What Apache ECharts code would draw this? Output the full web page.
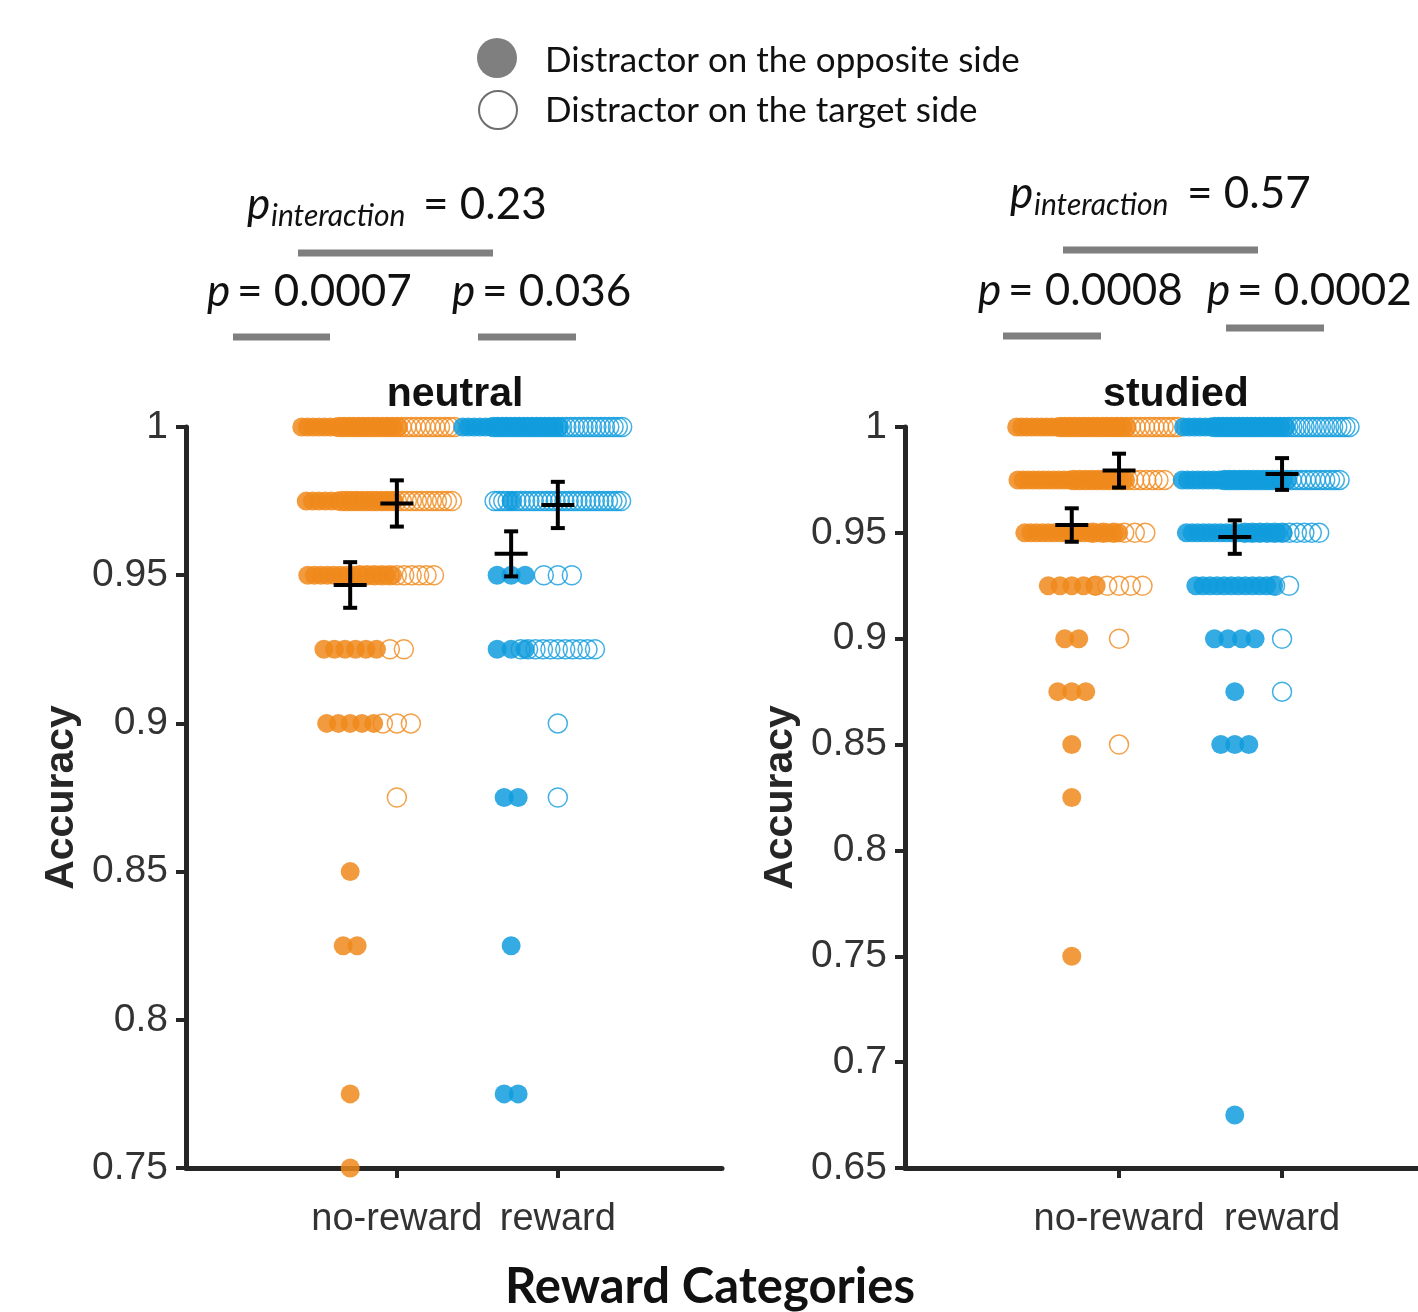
<!DOCTYPE html>
<html>
<head>
<meta charset="utf-8">
<script src="https://cdn.jsdelivr.net/npm/echarts@6/dist/echarts.min.js"></script>
<style>
  html, body { margin: 0; padding: 0; background: #fff; }
  #chart { width: 1418px; height: 1312px; }
</style>
</head>
<body>
<div id="chart"></div>
<script>
// reward categories on the x axis
const rewardCats = ["no-reward", "reward"];

// accuracy levels and number of participants at each level
// neutral panel
const neuNoRewOppAcc = [1, 0.975, 0.95, 0.925, 0.9, 0.85, 0.825, 0.775, 0.75];
const neuNoRewOppN   = [18, 15, 14, 6, 5, 1, 2, 1, 1];
const neuNoRewTgtAcc = [1, 0.975, 0.95, 0.925, 0.9, 0.875];
const neuNoRewTgtN   = [25, 23, 11, 2, 3, 1];
const neuRewOppAcc   = [1, 0.975, 0.95, 0.925, 0.875, 0.825, 0.775];
const neuRewOppN     = [18, 1, 3, 3, 2, 1, 2];
const neuRewTgtAcc   = [1, 0.975, 0.95, 0.925, 0.9, 0.875];
const neuRewTgtN     = [31, 30, 3, 11, 1, 1];
// studied panel
const stuNoRewOppAcc = [1, 0.975, 0.95, 0.925, 0.9, 0.875, 0.85, 0.825, 0.75];
const stuNoRewOppN   = [23, 22, 17, 5, 2, 3, 1, 1, 1];
const stuNoRewTgtAcc = [1, 0.975, 0.95, 0.925, 0.9, 0.85];
const stuNoRewTgtN   = [26, 16, 6, 5, 1, 1];
const stuRewOppAcc   = [1, 0.975, 0.95, 0.925, 0.9, 0.875, 0.85, 0.675];
const stuRewOppN     = [20, 21, 18, 12, 4, 1, 3, 1];
const stuRewTgtAcc   = [1, 0.975, 0.95, 0.925, 0.9, 0.875];
const stuRewTgtN     = [34, 25, 11, 2, 1, 1];

// mean +- sem: [no-reward opposite, no-reward target, reward opposite, reward target]
const neuMean = [0.9467, 0.9742, 0.9572, 0.9737];
const neuSem  = [0.0077, 0.0078, 0.0076, 0.0078];
const stuMean = [0.9537, 0.9794, 0.9480, 0.9778];
const stuSem  = [0.0079, 0.0080, 0.0079, 0.0075];

const ORANGE = "#F08A1C";
const BLUE = "#109CDD";
const AXIS = "#262626";
const OPP_SHIFT = -0.29;   // filled dots sit left of the tick

// axis ranges (x in category units)
const xRange = [[-0.31, 3.02], [-0.313, 2.834]];
const gridW = [536, 513];

// spread dots of one level sideways (beeswarm-like)
function swarm(accs, counts, xc, panel) {
    const pxPerUnit = gridW[panel] / (xRange[panel][1] - xRange[panel][0]);
    const out = [];
    accs.forEach((a, k) => {
        const n = counts[k];
        const span = n > 1 ? Math.min(14 * (n - 1), 23.5 * Math.sqrt(n - 1)) : 0;
        for (let i = 0; i < n; i++) {
            const off = n > 1 ? -span / 2 + i * span / (n - 1) : 0;
            out.push([xc + off / pxPerUnit, a]);
        }
    });
    return out;
}

function dots(name, data, panel, color, filled) {
    return {
        name: name,
        type: "scatter",
        xAxisIndex: panel,
        yAxisIndex: panel,
        symbol: "circle",
        symbolSize: 19,
        silent: true,
        data: data,
        itemStyle: filled
            ? {color: color, opacity: 0.85}
            : {color: "rgba(255,255,255,0)", borderColor: color, borderWidth: 1.5, opacity: 0.8}
    };
}

function errBars(means, sems, panel) {
    const xs = [1 + OPP_SHIFT, 1, 2 + OPP_SHIFT, 2];
    return {
        type: "custom",
        xAxisIndex: panel,
        yAxisIndex: panel,
        silent: true,
        z: 10,
        encode: {x: 0, y: 1},
        data: xs.map((x, i) => [x, means[i], sems[i]]),
        renderItem: function (params, api) {
            const x = api.value(0), m = api.value(1), s = api.value(2);
            const c = api.coord([x, m]);
            const t = api.coord([x, m + s]);
            const b = api.coord([x, m - s]);
            const st = {stroke: "#000", lineWidth: 4};
            return {
                type: "group",
                children: [
                    {type: "line", shape: {x1: c[0], y1: t[1], x2: c[0], y2: b[1]}, style: st},
                    {type: "line", shape: {x1: c[0] - 7, y1: t[1], x2: c[0] + 7, y2: t[1]}, style: st},
                    {type: "line", shape: {x1: c[0] - 7, y1: b[1], x2: c[0] + 7, y2: b[1]}, style: st},
                    {type: "line", shape: {x1: c[0] - 16.5, y1: c[1], x2: c[0] + 16.5, y2: c[1]}, style: st}
                ]
            };
        }
    };
}

function xAx(panel) {
    return {
        gridIndex: panel,
        type: "value",
        min: xRange[panel][0],
        max: xRange[panel][1],
        axisLine: {show: true, onZero: false, lineStyle: {color: AXIS, width: 5}},
        axisTick: {show: true, customValues: [1, 2], length: 10, lineStyle: {color: AXIS, width: 4}},
        axisLabel: {
            customValues: [1, 2],
            formatter: v => rewardCats[Math.round(v) - 1],
            margin: 33, fontSize: 38, color: "#333", fontFamily: "Liberation Sans"
        },
        splitLine: {show: false}
    };
}

function yAx(panel, min) {
    return {
        gridIndex: panel,
        type: "value",
        min: min,
        max: 1,
        interval: 0.05,
        axisLine: {show: true, onZero: false, lineStyle: {color: AXIS, width: 5}},
        axisTick: {show: true, length: 10, lineStyle: {color: AXIS, width: 4}},
        axisLabel: {
            formatter: v => String(parseFloat(v.toFixed(2))),
            margin: 18, fontSize: 39, color: "#333", fontFamily: "Liberation Sans",
            padding: [6, 0, 0, 0]
        },
        splitLine: {show: false},
        name: "Accuracy",
        nameLocation: "middle",
        nameGap: 104,
        nameTextStyle: {fontWeight: "bold", fontSize: 41, color: AXIS, fontFamily: "Liberation Sans"}
    };
}

const CAL = "Lato";
function txt(x, y, text, font, align) {
    return {
        type: "text", x: x, y: y, silent: true,
        style: {text: text, font: font, fill: "#111", align: align || "left", textAlign: align || "left",
                verticalAlign: "middle", textVerticalAlign: "middle"}
    };
}
function bar(x1, x2, y) {
    return {type: "line", silent: true, shape: {x1: x1, y1: y, x2: x2, y2: y}, style: {stroke: "#7f7f7f", lineWidth: 7}};
}

const chart = echarts.init(document.getElementById("chart"));
chart.setOption({
    animation: false,
    grid: [
        {left: 186, top: 427, width: gridW[0], height: 741},
        {left: 905, top: 427, width: gridW[1], height: 741}
    ],
    xAxis: [xAx(0), xAx(1)],
    yAxis: [yAx(0, 0.75), yAx(1, 0.65)],
    series: [
        dots("neutral no-reward target", swarm(neuNoRewTgtAcc, neuNoRewTgtN, 1, 0), 0, ORANGE, false),
        dots("neutral no-reward opposite", swarm(neuNoRewOppAcc, neuNoRewOppN, 1 + OPP_SHIFT, 0), 0, ORANGE, true),
        dots("neutral reward target", swarm(neuRewTgtAcc, neuRewTgtN, 2, 0), 0, BLUE, false),
        dots("neutral reward opposite", swarm(neuRewOppAcc, neuRewOppN, 2 + OPP_SHIFT, 0), 0, BLUE, true),
        errBars(neuMean, neuSem, 0),
        dots("studied no-reward target", swarm(stuNoRewTgtAcc, stuNoRewTgtN, 1, 1), 1, ORANGE, false),
        dots("studied no-reward opposite", swarm(stuNoRewOppAcc, stuNoRewOppN, 1 + OPP_SHIFT, 1), 1, ORANGE, true),
        dots("studied reward target", swarm(stuRewTgtAcc, stuRewTgtN, 2, 1), 1, BLUE, false),
        dots("studied reward opposite", swarm(stuRewOppAcc, stuRewOppN, 2 + OPP_SHIFT, 1), 1, BLUE, true),
        errBars(stuMean, stuSem, 1)
    ],
    graphic: [
        // legend
        {type: "circle", silent: true, shape: {cx: 497, cy: 58, r: 20}, style: {fill: "#7f7f7f"}},
        {type: "circle", silent: true, shape: {cx: 498, cy: 110, r: 19}, style: {fill: "#fff", stroke: "#6e6e6e", lineWidth: 2}},
        txt(545, 61, "Distractor on the opposite side", "35px " + CAL),
        txt(545, 111, "Distractor on the target side", "35px " + CAL),
        // panel titles
        txt(455, 395, "neutral", "bold 41px Liberation Sans", "center"),
        txt(1176, 395, "studied", "bold 41px Liberation Sans", "center"),
        // neutral stats
        txt(247, 205, "p", "italic 44px " + CAL),
        txt(271, 216, "interaction", "italic 30px " + CAL),
        txt(423, 205, "= 0.23", "44px " + CAL),
        bar(298, 493, 253),
        txt(207, 292, "p", "italic 44px " + CAL),
        txt(237, 292, "= 0.0007", "44px " + CAL),
        bar(233, 330, 337),
        txt(452, 292, "p", "italic 44px " + CAL),
        txt(482, 292, "= 0.036", "44px " + CAL),
        bar(478, 576, 337),
        // studied stats
        txt(1010, 194, "p", "italic 44px " + CAL),
        txt(1034, 205, "interaction", "italic 30px " + CAL),
        txt(1187, 194, "= 0.57", "44px " + CAL),
        bar(1063, 1258, 250),
        txt(978, 291, "p", "italic 44px " + CAL),
        txt(1008, 291, "= 0.0008", "44px " + CAL),
        bar(1003, 1101, 336),
        txt(1207, 291, "p", "italic 44px " + CAL),
        txt(1237, 291, "= 0.0002", "44px " + CAL),
        bar(1226, 1324, 328),
        // x axis title
        txt(710, 1287, "Reward Categories", "bold 49px " + CAL, "center")
    ]
});
</script>
</body>
</html>
